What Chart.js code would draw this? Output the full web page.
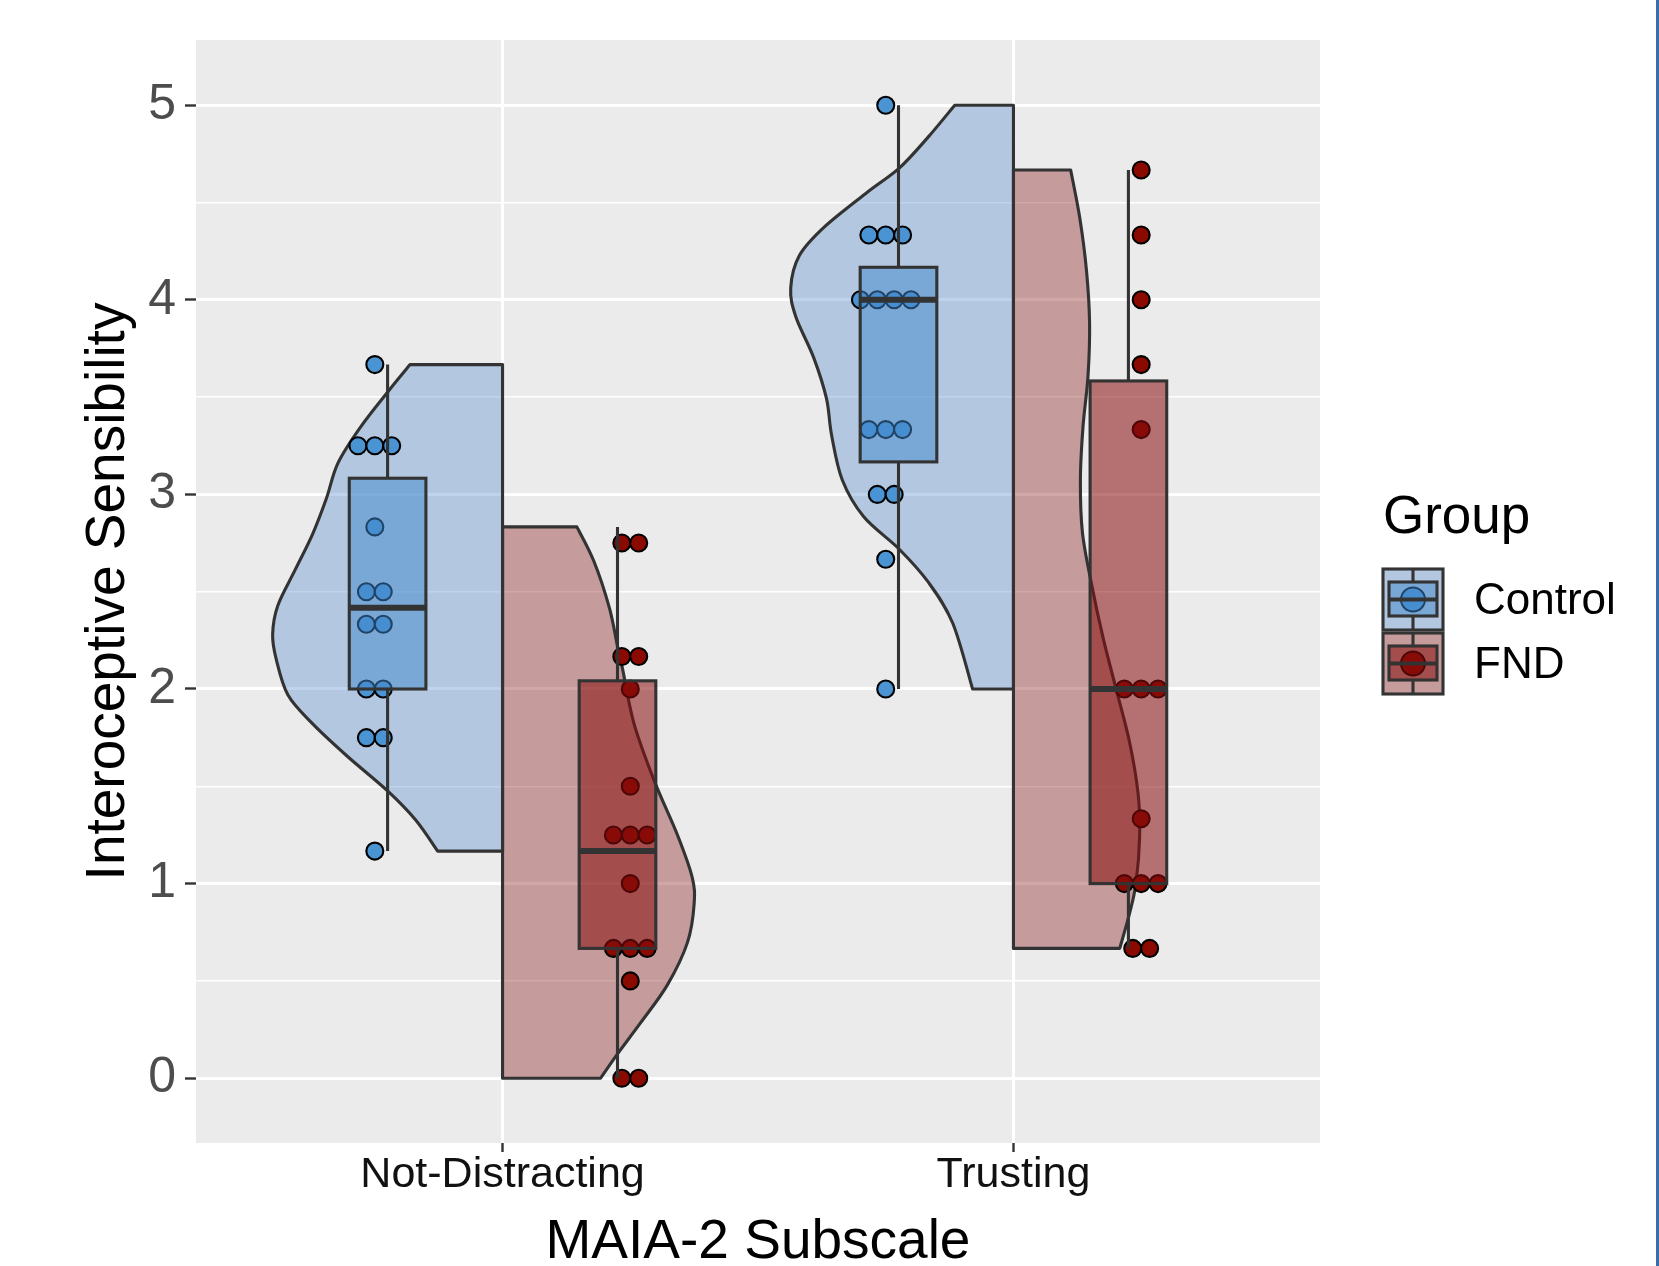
<!DOCTYPE html>
<html>
<head>
<meta charset="utf-8">
<title>Interoceptive Sensibility by MAIA-2 Subscale</title>
<script src="https://cdn.jsdelivr.net/npm/chart.js@4.4.1/dist/chart.umd.min.js"></script>
<style>
  html, body { margin: 0; padding: 0; background: #fff; }
  #wrap { position: relative; width: 1659px; height: 1266px; overflow: hidden; }
  #edge { position: absolute; right: 0; top: 0; width: 3px; height: 1266px; background: #3a6da6; }
</style>
</head>
<body>
<div id="wrap">
  <canvas id="chart" width="1659" height="1266"></canvas>
  <div id="edge"></div>
</div>
<script>
// categories / groups
const subscales = ['Not-Distracting', 'Trusting'];
const groups = ['Control', 'FND'];
const yTicks = [0, 1, 2, 3, 4, 5];
const yMinorTicks = [0.5, 1.5, 2.5, 3.5, 4.5];

// individual scores (as placed by the dotplot)
const controlNotDistracting = [3.667, 3.25, 3.25, 3.25, 2.833, 2.5, 2.5, 2.333, 2.333, 2.0, 2.0, 1.75, 1.75, 1.167];
const controlTrusting = [5.0, 4.333, 4.333, 4.333, 4.0, 4.0, 4.0, 4.0, 3.333, 3.333, 3.333, 3.0, 3.0, 2.667, 2.0];
const fndNotDistracting = [2.75, 2.75, 2.167, 2.167, 2.0, 1.5, 1.25, 1.25, 1.25, 1.0, 0.667, 0.667, 0.667, 0.5, 0, 0];
const fndTrusting = [4.667, 4.333, 4.0, 3.667, 3.333, 2.0, 2.0, 2.0, 1.333, 1.0, 1.0, 1.0, 0.667, 0.667];

// boxplot stats per subscale: [lower whisker, Q1, median, Q3, upper whisker]
const controlBoxes = [[1.167, 2.0, 2.417, 3.083, 3.667], [2.0, 3.167, 4.0, 4.167, 5.0]];
const fndBoxes = [[0.0, 0.667, 1.167, 2.042, 2.833], [0.667, 1.0, 2.0, 3.583, 4.667]];

// half-violins: score levels and density half-widths
const controlViolinY = [
  [1.167, 1.327, 1.474, 1.657, 1.822, 1.969, 2.153, 2.281, 2.428, 2.612, 2.795, 2.978, 3.162, 3.346, 3.529, 3.667],
  [2.0, 2.339, 2.55, 2.717, 2.885, 3.074, 3.305, 3.493, 3.703, 3.913, 4.06, 4.228, 4.375, 4.553, 4.678, 4.836, 5.0]
];
const controlViolinD = [
  [0.127, 0.170, 0.224, 0.305, 0.372, 0.420, 0.443, 0.450, 0.440, 0.406, 0.372, 0.345, 0.322, 0.278, 0.224, 0.181],
  [0.080, 0.119, 0.167, 0.223, 0.293, 0.335, 0.356, 0.366, 0.391, 0.426, 0.436, 0.419, 0.370, 0.286, 0.223, 0.167, 0.115]
];
const fndViolinY = [
  [0, 0.125, 0.284, 0.481, 0.698, 0.896, 1.034, 1.252, 1.528, 1.825, 2.102, 2.22, 2.418, 2.655, 2.833],
  [0.667, 0.844, 1.005, 1.247, 1.461, 1.730, 1.999, 2.268, 2.537, 2.805, 3.074, 3.343, 3.612, 3.88, 4.149, 4.418, 4.667]
];
const fndViolinD = [
  [0.192, 0.225, 0.270, 0.323, 0.362, 0.375, 0.371, 0.342, 0.297, 0.257, 0.235, 0.225, 0.209, 0.179, 0.1455],
  [0.208, 0.227, 0.240, 0.247, 0.244, 0.227, 0.201, 0.175, 0.153, 0.135, 0.131, 0.136, 0.146, 0.149, 0.143, 0.130, 0.112]
];

// styling
const FONT = '"Liberation Sans", Arial, Helvetica, sans-serif';
const OUTLINE = '#333333';
const LINE_W = 3.1;
const style = {
  Control: { point: '#4a94d4', violin: 'rgba(95,148,208,0.4)', box: 'rgba(65,136,204,0.5)', side: -1 },
  FND: { point: '#8b0a00', violin: 'rgba(140,35,35,0.4)', box: 'rgba(137,13,12,0.55)', side: 1 }
};
const BOX_OFF = 0.225, BOX_W = 0.15, DOT_OFF = 0.25, DOT_STEP = 0.033;

const scores = {
  Control: [controlNotDistracting, controlTrusting],
  FND: [fndNotDistracting, fndTrusting]
};
const boxes = { Control: controlBoxes, FND: fndBoxes };
const violins = {
  Control: { y: controlViolinY, d: controlViolinD },
  FND: { y: fndViolinY, d: fndViolinD }
};

// side-by-side stacking of tied scores (dotplot layout)
function dots(group) {
  const out = [];
  scores[group].forEach((vals, ci) => {
    const counts = {};
    vals.forEach(v => { counts[v] = (counts[v] || 0) + 1; });
    const seen = {};
    vals.forEach(v => {
      const i = seen[v] = (seen[v] === undefined ? 0 : seen[v] + 1);
      const base = ci + 1 + style[group].side * DOT_OFF;
      out.push({ x: base + (i - (counts[v] - 1) / 2) * DOT_STEP, y: v });
    });
  });
  return out;
}

function smoothThrough(ctx, pts) {
  for (let i = 0; i < pts.length - 1; i++) {
    const p0 = pts[i - 1] || pts[i], p1 = pts[i], p2 = pts[i + 1], p3 = pts[i + 2] || p2;
    ctx.bezierCurveTo(
      p1[0] + (p2[0] - p0[0]) / 6, p1[1] + (p2[1] - p0[1]) / 6,
      p2[0] - (p3[0] - p1[0]) / 6, p2[1] - (p3[1] - p1[1]) / 6,
      p2[0], p2[1]);
  }
}

const raincloud = {
  id: 'raincloud',
  beforeDraw(chart) {
    const { ctx, chartArea: a } = chart;
    ctx.save();
    ctx.fillStyle = '#ebebeb';
    ctx.fillRect(a.left, a.top, a.right - a.left, a.bottom - a.top);
    ctx.restore();
  },
  beforeDatasetsDraw(chart) {
    const { ctx, scales: { x, y } } = chart;
    ctx.save();
    ctx.lineWidth = LINE_W;
    ctx.lineJoin = 'round';
    ctx.strokeStyle = OUTLINE;
    groups.forEach(g => {
      const s = style[g];
      violins[g].y.forEach((ys, ci) => {
        const c = ci + 1;
        const ds = violins[g].d[ci];
        const pts = ys.map((v, k) => [x.getPixelForValue(c + s.side * ds[k]), y.getPixelForValue(v)]);
        ctx.beginPath();
        ctx.moveTo(x.getPixelForValue(c), y.getPixelForValue(ys[0]));
        ctx.lineTo(pts[0][0], pts[0][1]);
        smoothThrough(ctx, pts);
        ctx.lineTo(x.getPixelForValue(c), y.getPixelForValue(ys[ys.length - 1]));
        ctx.closePath();
        ctx.fillStyle = s.violin;
        ctx.fill();
        ctx.stroke();
      });
    });
    ctx.restore();
  },
  afterDatasetsDraw(chart) {
    const { ctx, scales: { x, y } } = chart;
    ctx.save();
    ctx.strokeStyle = OUTLINE;
    groups.forEach(g => {
      const s = style[g];
      boxes[g].forEach((b, ci) => {
        const cx = ci + 1 + s.side * BOX_OFF;
        const xl = x.getPixelForValue(cx - BOX_W / 2), xr = x.getPixelForValue(cx + BOX_W / 2);
        const xm = x.getPixelForValue(cx);
        const [lo, q1, med, q3, hi] = b.map(v => y.getPixelForValue(v));
        ctx.lineWidth = LINE_W;
        ctx.beginPath();
        ctx.moveTo(xm, q3); ctx.lineTo(xm, hi);
        ctx.moveTo(xm, q1); ctx.lineTo(xm, lo);
        ctx.stroke();
        ctx.fillStyle = s.box;
        ctx.fillRect(xl, q3, xr - xl, q1 - q3);
        ctx.strokeRect(xl, q3, xr - xl, q1 - q3);
        ctx.lineWidth = 6;
        ctx.beginPath();
        ctx.moveTo(xl, med); ctx.lineTo(xr, med);
        ctx.stroke();
      });
    });
    ctx.restore();
  },
  afterDraw(chart) {
    // legend in ggplot style
    const { ctx } = chart;
    ctx.save();
    ctx.fillStyle = '#000';
    ctx.textBaseline = 'middle';
    ctx.textAlign = 'left';
    ctx.font = '53px ' + FONT;
    ctx.fillText('Group', 1383, 518);
    ctx.font = '44px ' + FONT;
    groups.forEach((g, i) => {
      const s = style[g];
      const top = 569 + i * 64, L = 1383, W = 60, H = 61;
      const cx = L + W / 2, cy = top + H / 2;
      ctx.fillStyle = '#ebebeb';
      ctx.fillRect(L, top, W, H);
      ctx.fillStyle = s.violin;
      ctx.fillRect(L, top, W, H);
      ctx.strokeStyle = OUTLINE;
      ctx.lineWidth = LINE_W;
      ctx.strokeRect(L, top, W, H);
      ctx.beginPath();
      ctx.arc(cx, cy, 12, 0, Math.PI * 2);
      ctx.fillStyle = s.point;
      ctx.fill();
      ctx.lineWidth = 2;
      ctx.strokeStyle = '#000';
      ctx.stroke();
      ctx.strokeStyle = OUTLINE;
      ctx.lineWidth = LINE_W;
      ctx.beginPath();
      ctx.moveTo(cx, top); ctx.lineTo(cx, top + 13);
      ctx.moveTo(cx, top + H - 14); ctx.lineTo(cx, top + H);
      ctx.stroke();
      ctx.fillStyle = s.box;
      ctx.fillRect(L + 6, top + 13, W - 12, H - 27);
      ctx.strokeRect(L + 6, top + 13, W - 12, H - 27);
      ctx.lineWidth = 4;
      ctx.beginPath();
      ctx.moveTo(L + 6, cy); ctx.lineTo(L + W - 6, cy);
      ctx.stroke();
      ctx.fillStyle = '#000';
      ctx.fillText(g, 1474, cy + 2);
    });
    ctx.restore();
  }
};

Chart.defaults.font.family = FONT;

const yAll = yTicks.concat(yMinorTicks).sort((a, b) => a - b);
const isMajor = v => yTicks.includes(v);

new Chart(document.getElementById('chart'), {
  type: 'scatter',
  data: {
    datasets: groups.map(g => ({
      label: g,
      data: dots(g),
      backgroundColor: style[g].point,
      borderColor: '#000',
      borderWidth: 2.1,
      pointRadius: 8.5,
      pointHoverRadius: 8.5
    }))
  },
  options: {
    responsive: false,
    animation: false,
    devicePixelRatio: 1,
    layout: { padding: { left: 0, right: 339, top: 40, bottom: 0 } },
    plugins: { legend: { display: false }, tooltip: { enabled: false } },
    scales: {
      x: {
        type: 'linear',
        min: 0.4,
        max: 2.6,
        afterBuildTicks: s => { s.ticks = subscales.map((_, i) => ({ value: i + 1 })); },
        afterFit: s => { s.height = 123; },
        ticks: {
          callback: v => subscales[v - 1] ?? '',
          font: { size: 43 },
          color: '#111',
          padding: -3,
          maxRotation: 0,
          autoSkip: false
        },
        grid: { color: '#fff', lineWidth: 3, tickColor: '#333', tickLength: 9, tickWidth: 2.4 },
        border: { display: false },
        title: {
          display: true,
          text: 'MAIA-2 Subscale',
          font: { size: 55 },
          color: '#000',
          padding: { top: 0, bottom: -10 }
        }
      },
      y: {
        type: 'linear',
        min: -0.333,
        max: 5.335,
        afterBuildTicks: s => { s.ticks = yAll.map(v => ({ value: v })); },
        afterFit: s => { s.width = 196; },
        ticks: {
          callback: v => (isMajor(v) ? String(v) : ''),
          font: { size: 50 },
          color: '#4d4d4d',
          padding: 9,
          autoSkip: false
        },
        grid: {
          color: '#fff',
          lineWidth: c => (isMajor(c.tick.value) ? 3 : 1.5),
          tickColor: c => (isMajor(c.tick.value) ? '#333' : 'rgba(0,0,0,0)'),
          tickLength: 11,
          tickWidth: 2.4
        },
        border: { display: false },
        title: {
          display: true,
          text: 'Interoceptive Sensibility',
          font: { size: 55 },
          color: '#000',
          padding: { top: 76, bottom: 0 }
        }
      }
    }
  },
  plugins: [raincloud]
});
</script>
</body>
</html>
